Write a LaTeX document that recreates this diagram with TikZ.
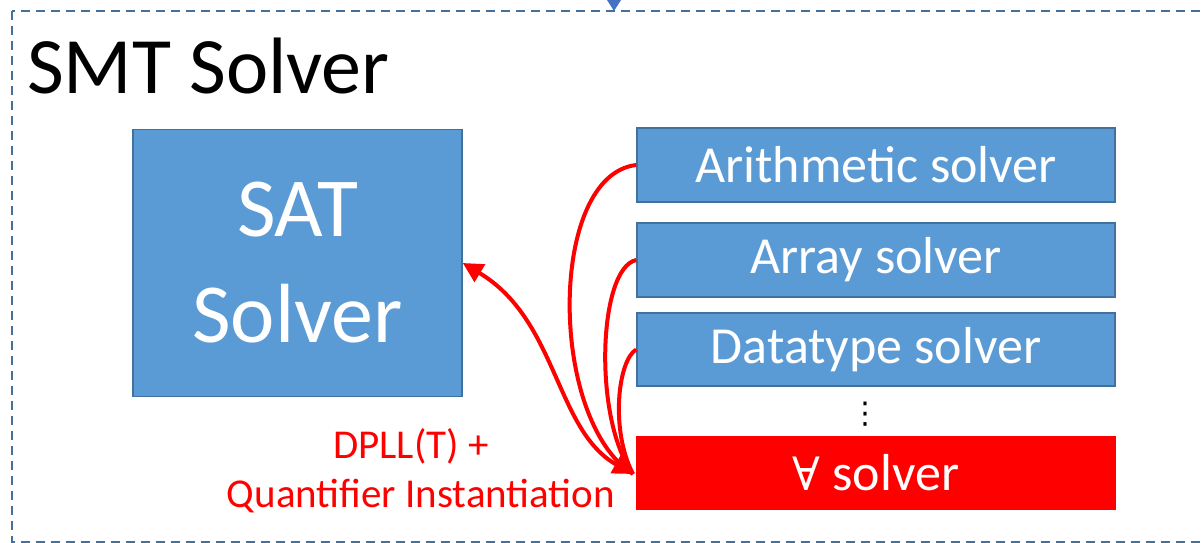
\documentclass[tikz,border=0pt]{standalone}
\usepackage{fontspec}
\setmainfont{Carlito}
\newfontfamily\symbolface{DejaVu Serif}
\newfontfamily\dotface{DejaVu Sans}
\usetikzlibrary{arrows.meta}
\definecolor{boxblue}{HTML}{5B9BD5}
\definecolor{edgeblue}{HTML}{41719C}
\definecolor{frameblue}{HTML}{41719C}
\definecolor{accent}{HTML}{4472C4}
\definecolor{hot}{HTML}{FF0000}
\tikzset{
  solverbox/.style={draw=edgeblue, line width=1.5pt, fill=boxblue, text=white,
    inner sep=0pt, font=\fontsize{52}{60}\selectfont},
  quantbox/.style={solverbox, draw=hot, fill=hot},
  link/.style={draw=hot, line width=4pt},
  bothtips/.style={{Triangle[length=20pt,width=20pt]}-{Triangle[length=20pt,width=20pt]}},
}
\begin{document}
\begin{tikzpicture}[x=1pt,y=-1pt]
  \useasboundingbox (0,0) rectangle (1203,543);
  % dashed frame of the SMT solver
  \draw[frameblue, line width=2pt, dash pattern=on 9pt off 6pt] (12,11) rectangle (1215,542);
  \fill[accent] (607,0) -- (621,0) -- (614,11) -- cycle;
  \node[anchor=base west, font=\fontsize{80}{90}\selectfont, inner sep=0pt] (title) at (27,93) {SMT Solver};

  \node[solverbox, minimum width=329pt, minimum height=267pt, align=center,
        font=\fontsize{84}{106}\selectfont] (sat) at (297.5,263) {SAT\\Solver};

  \node[solverbox, minimum width=478pt, minimum height=74pt] (arith) at (876,165) {Arithmetic solver};
  \node[solverbox, minimum width=478pt, minimum height=74pt] (array) at (876,260) {Array solver};
  \node[solverbox, minimum width=478pt, minimum height=73pt] (dtype) at (876,349.5) {Datatype solver};
  \node[quantbox, minimum width=478pt, minimum height=72pt] (forall) at (876,473)
        {{\symbolface\fontsize{46}{50}\selectfont ∀} solver};
  \node[font=\dotface\fontsize{30}{30}\selectfont, inner sep=0pt] (dots) at (865,414) {⋮};

  % the multi-line node's base anchor sits on its last line
  \node[anchor=base, align=center, text=hot, inner sep=0pt,
        font=\fontsize{41}{49}\selectfont] (label) at (421,507)
        {DPLL(T) +\hspace*{20pt}\\Quantifier Instantiation};

  \coordinate (meet) at (633,474);
  \draw[link] (arith.west) .. controls (548,175) and (548,420) .. (meet);
  \draw[link] (array.west) .. controls (598,268) and (593,420) .. (meet);
  \draw[link] (dtype.west) .. controls (618,360) and (610,430) .. (meet);
  \draw[link, bothtips] (meet) .. controls (555,430) and (558,320) .. (sat.east);
\end{tikzpicture}
\end{document}
